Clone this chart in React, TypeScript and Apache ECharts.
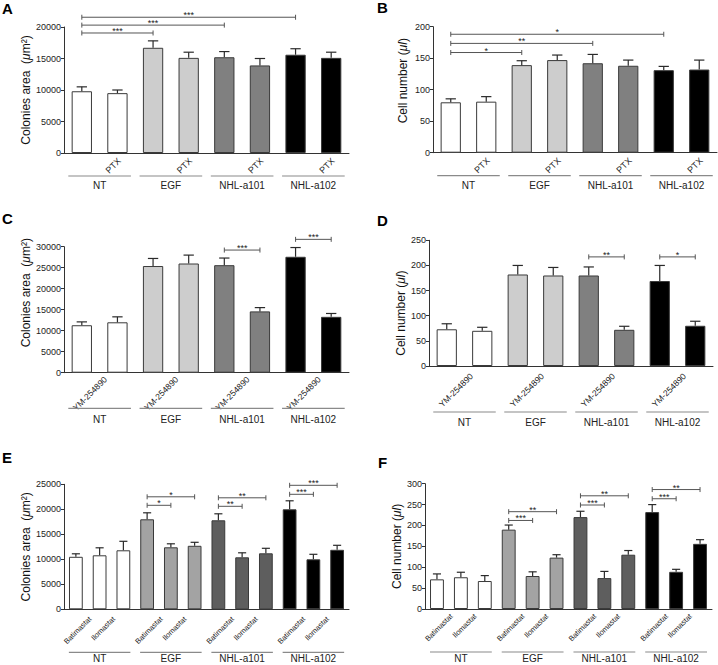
import React, { useEffect, useRef } from "react";
import * as echarts from "echarts";

const FONT = "Liberation Sans, Arial, Helvetica, sans-serif";

const GROUPS = ["NT", "EGF", "NHL-a101", "NHL-a102"];

// Panel A – colonies area, PTX
const A_LABELS = ["", "PTX", "", "PTX", "", "PTX", "", "PTX"];
const A_MEANS = [9800, 9500, 16700, 15100, 15200, 13900, 15600, 15100];
const A_ERRORS = [700, 500, 1100, 900, 900, 1100, 950, 900];
const A_PAIRS = [[0, 2], [0, 4], [0, 6]];
const A_LEVELS = [19050, 20300, 21550];
const A_STARS = ["***", "***", "***"];

// Panel B – cell number, PTX
const B_LABELS = ["", "PTX", "", "PTX", "", "PTX", "", "PTX"];
const B_MEANS = [80, 81, 139, 147, 142, 138, 131, 132];
const B_ERRORS = [5.5, 8, 7, 8, 14, 9, 6, 15];
const B_PAIRS = [[0, 2], [0, 4], [0, 6]];
const B_LEVELS = [159, 173.5, 188];
const B_STARS = ["*", "**", "*"];

// Panel C – colonies area, YM-254890
const C_LABELS = ["", "YM-254890", "", "YM-254890", "", "YM-254890", "", "YM-254890"];
const C_MEANS = [11300, 12000, 25400, 26000, 25600, 14600, 27600, 13300];
const C_ERRORS = [800, 1300, 1800, 2000, 1700, 900, 2200, 800];
const C_PAIRS = [[4, 5], [6, 7]];
const C_LEVELS = [29200, 31750];
const C_STARS = ["***", "***"];

// Panel D – cell number, YM-254890
const D_LABELS = ["", "YM-254890", "", "YM-254890", "", "YM-254890", "", "YM-254890"];
const D_MEANS = [73, 70, 182, 180, 180, 72, 169, 80];
const D_ERRORS = [11, 7, 18, 16, 17, 7, 31, 9];
const D_PAIRS = [[4, 5], [6, 7]];
const D_LEVELS = [217, 217];
const D_STARS = ["**", "*"];

// Panel E – colonies area, Batimastat / Ilomastat
const E_LABELS = ["", "Batimastat", "Ilomastat", "", "Batimastat", "Ilomastat", "", "Batimastat", "Ilomastat", "", "Batimastat", "Ilomastat"];
const E_MEANS = [10500, 10800, 11800, 18000, 12400, 12700, 17800, 10400, 11200, 20000, 10000, 11900];
const E_ERRORS = [600, 1500, 1800, 1300, 700, 700, 1300, 900, 1000, 1700, 1000, 900];
const E_PAIRS = [[3, 4], [3, 5], [6, 7], [6, 8], [9, 10], [9, 11]];
const E_LEVELS = [20800, 22500, 20600, 22300, 23000, 24800];
const E_STARS = ["*", "*", "**", "**", "***", "***"];

// Panel F – cell number, Batimastat / Ilomastat
const F_LABELS = ["", "Batimastat", "Ilomastat", "", "Batimastat", "Ilomastat", "", "Batimastat", "Ilomastat", "", "Batimastat", "Ilomastat"];
const F_MEANS = [71, 76, 67, 190, 79, 123, 220, 74, 130, 232, 89, 156];
const F_ERRORS = [13, 12, 13, 11, 10, 7, 14, 16, 10, 18, 6, 10];
const F_PAIRS = [[3, 4], [3, 5], [6, 7], [6, 8], [9, 10], [9, 11]];
const F_LEVELS = [212, 233, 249, 271, 264, 286];
const F_STARS = ["***", "**", "***", "**", "***", "**"];

const COLORS_ABCD = ["#ffffff", "#cdcdcd", "#808080", "#000000"];
const COLORS_EF = ["#ffffff", "#a3a3a3", "#5e5e5e", "#000000"];

const AREA_NAME = "Colonies area  ({i|μ}m²)";
const CELL_NAME = "Cell number ({i|μl})";

type Panel = {
  letter: string; lx: number; ly: number;
  left: number; top: number; width: number; height: number;
  max: number; interval: number;
  name: string; nameGap: number; namePad: number[];
  labels: string[]; means: number[]; errors: number[];
  pairs: number[][]; levels: number[]; stars: string[];
  perGroup: number; colors: string[]; barWidth: string; capFrac: number;
  lineOff: number; groupLabelOff: number; groupExt: number;
  labelFont: number; ldx: number; ldy: number; groupFont: number;
};

const PANELS: Panel[] = [
  { letter: "A", lx: 2, ly: 1, left: 64, top: 27, width: 285, height: 126, max: 20000, interval: 5000,
    name: AREA_NAME, nameGap: 30, namePad: [0, 0, 0, 0],
    labels: A_LABELS, means: A_MEANS, errors: A_ERRORS, pairs: A_PAIRS, levels: A_LEVELS, stars: A_STARS,
    perGroup: 2, colors: COLORS_ABCD, barWidth: "57%", capFrac: 0.145,
    lineOff: 23, groupLabelOff: 32, groupExt: 13.5, labelFont: 9, ldx: 2, ldy: 6.5, groupFont: 10 },
  { letter: "B", lx: 377, ly: 0, left: 433, top: 26.7, width: 284, height: 126, max: 200, interval: 50,
    name: CELL_NAME, nameGap: 24, namePad: [0, 0, 0, 18],
    labels: B_LABELS, means: B_MEANS, errors: B_ERRORS, pairs: B_PAIRS, levels: B_LEVELS, stars: B_STARS,
    perGroup: 2, colors: COLORS_ABCD, barWidth: "57%", capFrac: 0.145,
    lineOff: 23, groupLabelOff: 33, groupExt: 13.5, labelFont: 9, ldx: 2, ldy: 6.5, groupFont: 10 },
  { letter: "C", lx: 2, ly: 211, left: 64, top: 246.7, width: 285, height: 126, max: 30000, interval: 5000,
    name: AREA_NAME, nameGap: 30, namePad: [0, 0, 0, 34],
    labels: C_LABELS, means: C_MEANS, errors: C_ERRORS, pairs: C_PAIRS, levels: C_LEVELS, stars: C_STARS,
    perGroup: 2, colors: COLORS_ABCD, barWidth: "57%", capFrac: 0.145,
    lineOff: 35.6, groupLabelOff: 46.6, groupExt: 13.5, labelFont: 8.5, ldx: -12, ldy: 5.3, groupFont: 10 },
  { letter: "D", lx: 377, ly: 213, left: 429, top: 240.3, width: 284, height: 125.7, max: 250, interval: 50,
    name: CELL_NAME, nameGap: 20, namePad: [0, 20, 0, 0],
    labels: D_LABELS, means: D_MEANS, errors: D_ERRORS, pairs: D_PAIRS, levels: D_LEVELS, stars: D_STARS,
    perGroup: 2, colors: COLORS_ABCD, barWidth: "57%", capFrac: 0.145,
    lineOff: 46, groupLabelOff: 56, groupExt: 13.5, labelFont: 8.5, ldx: -10.8, ldy: 8.7, groupFont: 10 },
  { letter: "E", lx: 2, ly: 450, left: 64, top: 484.3, width: 285, height: 125, max: 25000, interval: 5000,
    name: AREA_NAME, nameGap: 30, namePad: [0, 0, 0, 0],
    labels: E_LABELS, means: E_MEANS, errors: E_ERRORS, pairs: E_PAIRS, levels: E_LEVELS, stars: E_STARS,
    perGroup: 3, colors: COLORS_EF, barWidth: "58%", capFrac: 0.17,
    lineOff: 43, groupLabelOff: 49.5, groupExt: 7, labelFont: 7.5, ldx: -9.5, ldy: 8.4, groupFont: 10 },
  { letter: "F", lx: 378, ly: 455, left: 425, top: 483.7, width: 287, height: 125.3, max: 300, interval: 50,
    name: CELL_NAME, nameGap: 17, namePad: [0, 0, 0, 0],
    labels: F_LABELS, means: F_MEANS, errors: F_ERRORS, pairs: F_PAIRS, levels: F_LEVELS, stars: F_STARS,
    perGroup: 3, colors: COLORS_EF, barWidth: "58%", capFrac: 0.17,
    lineOff: 43, groupLabelOff: 49.5, groupExt: 7, labelFont: 7.5, ldx: -9.5, ldy: 6, groupFont: 10 },
];

function buildOption() {
  const option: any = { animation: false, grid: [], xAxis: [], yAxis: [], series: [], graphic: [] };
  PANELS.forEach((p, k) => {
    option.grid.push({ left: p.left, top: p.top, width: p.width, height: p.height, containLabel: false });
    option.xAxis.push({
      type: "category", gridIndex: k, data: p.labels.map((_, i) => String(i)),
      axisLine: { lineStyle: { color: "#333", width: 1 } },
      axisTick: { alignWithLabel: true, length: 3, lineStyle: { color: "#333" } },
      axisLabel: { show: false },
    });
    option.yAxis.push({
      type: "value", gridIndex: k, min: 0, max: p.max, interval: p.interval,
      axisLine: { show: true, lineStyle: { color: "#333", width: 1 } },
      axisTick: { show: true, length: 3, lineStyle: { color: "#333" } },
      splitLine: { show: false },
      axisLabel: { fontSize: 9, color: "#222", margin: 3, fontFamily: FONT, formatter: (v: number) => String(v) },
      name: p.name, nameLocation: "middle", nameGap: p.nameGap,
      nameTextStyle: {
        fontSize: 12, color: "#111", fontFamily: FONT, padding: p.namePad,
        rich: { i: { fontSize: 12, fontStyle: "italic", color: "#111", fontFamily: FONT } },
      },
    });
    option.series.push({
      type: "bar", xAxisIndex: k, yAxisIndex: k, barWidth: p.barWidth,
      itemStyle: { borderColor: "#3a3a3a", borderWidth: 1 },
      data: p.means.map((m, i) => ({ value: m, itemStyle: { color: p.colors[Math.floor(i / p.perGroup)], borderColor: "#3a3a3a", borderWidth: 1 } })),
    });
    option.series.push({
      type: "custom", xAxisIndex: k, yAxisIndex: k, clip: false, z: 3, silent: true,
      data: p.means.map((m, i) => [i, m, p.errors[i]]),
      encode: { x: 0, y: 1 },
      renderItem: (params: any, api: any) => {
        const i = api.value(0), m = api.value(1), e = api.value(2);
        const b = api.coord([i, m]);
        const t = api.coord([i, m + e]);
        const half = api.size([1, 0])[0] * p.capFrac;
        const st = { stroke: "#2a2a2a", lineWidth: 1.2 };
        return {
          type: "group",
          children: [
            { type: "line", shape: { x1: b[0], y1: b[1], x2: t[0], y2: t[1] }, style: st },
            { type: "line", shape: { x1: t[0] - half, y1: t[1], x2: t[0] + half, y2: t[1] }, style: st },
          ],
        };
      },
    });
    option.series.push({
      type: "custom", xAxisIndex: k, yAxisIndex: k, clip: false, z: 4, silent: true,
      data: p.pairs.map((pr, j) => [pr[0], pr[1], p.levels[j]]),
      encode: { x: [0, 1], y: 2 },
      renderItem: (params: any, api: any) => {
        const a = api.coord([api.value(0), api.value(2)]);
        const b = api.coord([api.value(1), api.value(2)]);
        const st = { stroke: "#555", lineWidth: 1 };
        return {
          type: "group",
          children: [
            { type: "line", shape: { x1: a[0], y1: a[1], x2: b[0], y2: b[1] }, style: st },
            { type: "line", shape: { x1: a[0], y1: a[1] - 2.5, x2: a[0], y2: a[1] + 2.5 }, style: st },
            { type: "line", shape: { x1: b[0], y1: b[1] - 2.5, x2: b[0], y2: b[1] + 2.5 }, style: st },
            {
              type: "text", x: (a[0] + b[0]) / 2, y: a[1] - 2,
              style: {
                text: p.stars[params.dataIndex], fontSize: 9, fontFamily: FONT, fill: "#222",
                align: "center", verticalAlign: "middle", textAlign: "center", textVerticalAlign: "middle",
              },
            },
          ],
        };
      },
    });
    // rotated tick labels
    option.series.push({
      type: "custom", xAxisIndex: k, yAxisIndex: k, clip: false, z: 4, silent: true,
      data: p.labels.map((_, i) => [i, 0]),
      encode: { x: 0, y: 1 },
      renderItem: (params: any, api: any) => {
        const txt = p.labels[params.dataIndex];
        if (!txt) return { type: "group", children: [] };
        const c = api.coord([api.value(0), 0]);
        return {
          type: "text", x: c[0] + p.ldx, y: c[1] + p.ldy, rotation: Math.PI / 4,
          style: {
            text: txt, fontSize: p.labelFont, fontFamily: FONT, fill: "#222",
            align: "right", verticalAlign: "middle", textAlign: "right", textVerticalAlign: "middle",
          },
        };
      },
    });
    // group lines and labels
    option.series.push({
      type: "custom", xAxisIndex: k, yAxisIndex: k, clip: false, z: 4, silent: true,
      data: GROUPS.map((_, j) => [j * p.perGroup, (j + 1) * p.perGroup - 1, 0]),
      encode: { x: [0, 1], y: 2 },
      renderItem: (params: any, api: any) => {
        const a = api.coord([api.value(0), 0]);
        const b = api.coord([api.value(1), 0]);
        const y = a[1] + p.lineOff;
        return {
          type: "group",
          children: [
            { type: "line", shape: { x1: a[0] - p.groupExt, y1: y, x2: b[0] + p.groupExt, y2: y }, style: { stroke: "#8a8a8a", lineWidth: 1.2 } },
            {
              type: "text", x: (a[0] + b[0]) / 2, y: a[1] + p.groupLabelOff,
              style: {
                text: GROUPS[params.dataIndex], fontSize: p.groupFont, fontFamily: FONT, fill: "#222",
                align: "center", verticalAlign: "middle", textAlign: "center", textVerticalAlign: "middle",
              },
            },
          ],
        };
      },
    });
    option.graphic.push({
      type: "text", left: p.lx, top: p.ly,
      style: { text: p.letter, fontSize: 15, fontWeight: "bold", fontFamily: FONT, fill: "#000" },
    });
  });
  return option;
}

export default function App() {
  const ref = useRef<HTMLDivElement>(null);
  useEffect(() => {
    document.body.style.margin = "0";
    if (!ref.current) return;
    const chart = echarts.init(ref.current, undefined, { renderer: "svg" });
    chart.setOption(buildOption());
    return () => chart.dispose();
  }, []);
  return <div ref={ref} style={{ width: 718, height: 665, background: "#fff" }} />;
}
